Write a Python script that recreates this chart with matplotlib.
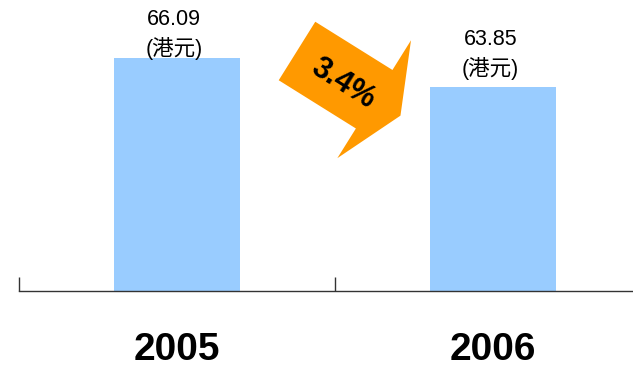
import numpy as np
import matplotlib
matplotlib.use("Agg")
import matplotlib.pyplot as plt
from matplotlib.patches import Polygon

plt.rcParams["font.family"] = ["Liberation Sans", "Noto Sans CJK SC", "DejaVu Sans"]

years = ["2005", "2006"]
prices = [66.09, 63.85]
unit = "(港元)"
change_label = "3.4%"

W, H = 633, 369
fig = plt.figure(figsize=(W / 100, H / 100), dpi=100)
# axes runs a little past the right edge, like the original slide
ax = fig.add_axes([19 / W, (H - 290.5) / H, 632 / W, 290.5 / H])

x = np.arange(len(years))
ax.bar(x, prices, width=0.4, color="#99CCFF", zorder=2)
ax.set_xlim(-0.5, len(years) - 0.5)
ax.set_ylim(48.11, 70.54)

for s in ["top", "right", "left"]:
    ax.spines[s].set_visible(False)
ax.spines["bottom"].set_color("#333333")
ax.spines["bottom"].set_linewidth(1.0)
ax.set_yticks([])

ax.set_xticks(np.arange(len(years) + 1) - 0.5)
ax.set_xticklabels([])
ax.tick_params(axis="x", which="major", direction="in", length=10, width=1, color="#333333")
ax.set_xticks(x, minor=True)
ax.set_xticklabels(years, minor=True, fontsize=28, fontweight="bold")
ax.tick_params(axis="x", which="minor", length=0, pad=30)

# value labels above bars (pixel offsets from bar top)
offsets = [23, 32]
for xi, v, off in zip(x, prices, offsets):
    ax.annotate("%.2f\n%s" % (v, unit), xy=(xi, v), xytext=(-2, off * 0.72),
                textcoords="offset points", ha="center", va="center",
                fontsize=15.5, linespacing=1.35)

# orange "decrease" arrow, built in image pixels then mapped to figure fraction
ang = np.deg2rad(32)
shaft_w, shaft_l, head_w, head_l = 69, 91, 139, 31
local = np.array([
    [0, -shaft_w / 2], [shaft_l, -shaft_w / 2], [shaft_l, -head_w / 2],
    [shaft_l + head_l, 0], [shaft_l, head_w / 2], [shaft_l, shaft_w / 2],
    [0, shaft_w / 2],
])
rot = np.array([[np.cos(ang), -np.sin(ang)], [np.sin(ang), np.cos(ang)]])
pts = local @ rot.T + np.array([297, 51])
fpts = np.column_stack([pts[:, 0] / W, 1 - pts[:, 1] / H])
fig.patches.append(Polygon(fpts, closed=True, facecolor="#FF9900",
                           edgecolor="none", transform=fig.transFigure))
fig.text(343 / W, 1 - 84 / H, change_label, rotation=-32, rotation_mode="anchor",
         ha="center", va="center", fontsize=22, fontweight="bold")

fig.savefig("out.png", dpi=100)
